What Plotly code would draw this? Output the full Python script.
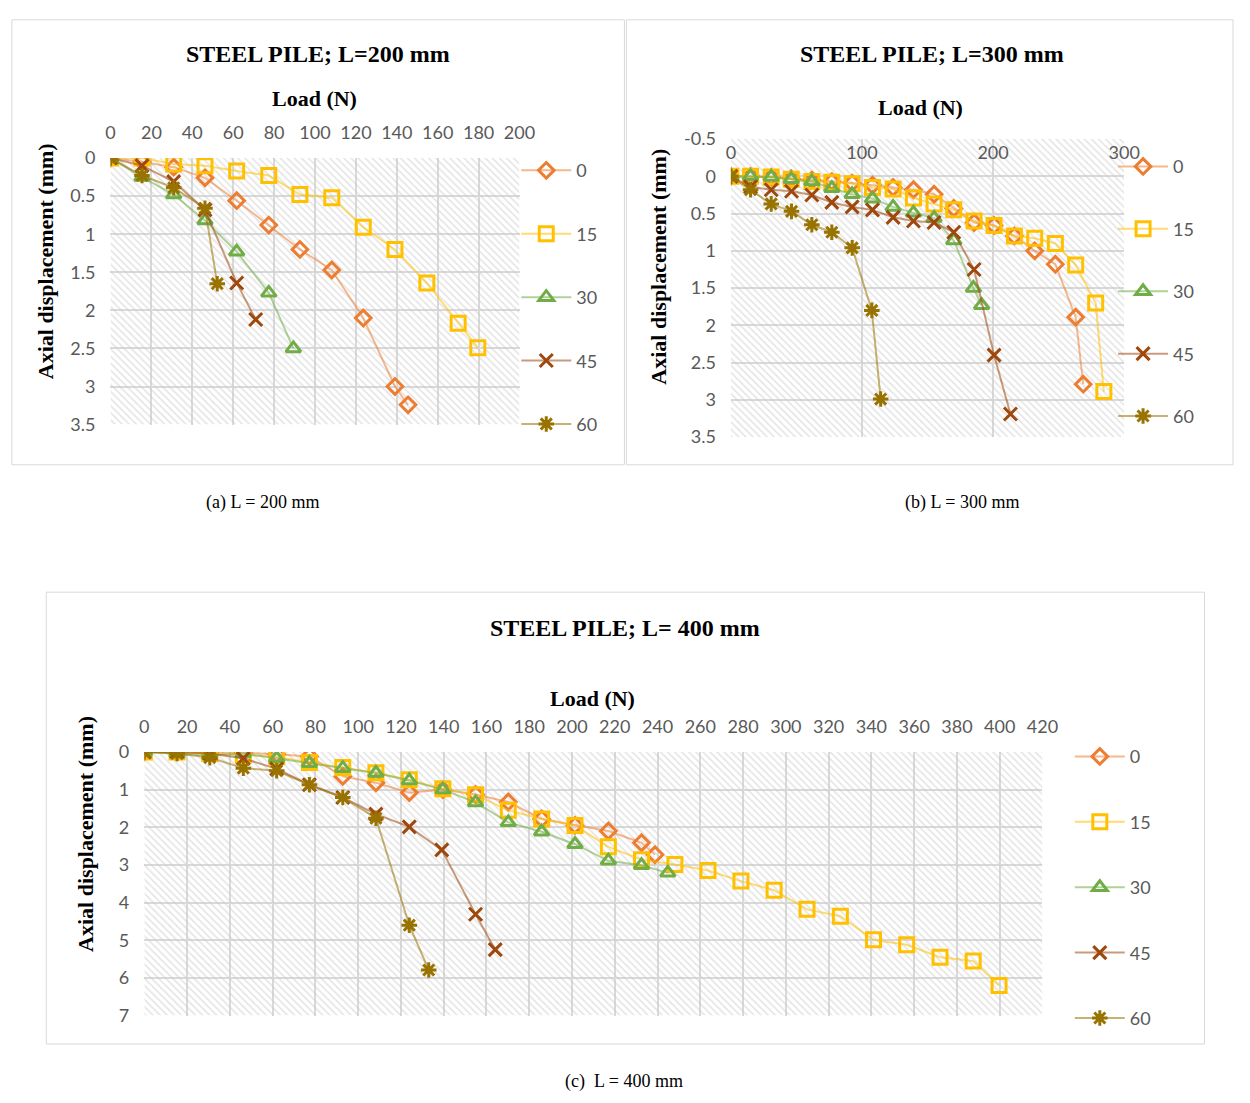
import plotly.graph_objects as go

W, H = 1250, 1103

# ---------------- DATA ----------------
series_names = ["0", "15", "30", "45", "60"]

# (a) L = 200 mm
A_x0 = [0, 15.4, 30.9, 46.2, 61.7, 77.4, 92.6, 108.2, 123.6, 139.1, 145.5]
A_y0 = [0, 0.05, 0.12, 0.26, 0.56, 0.88, 1.20, 1.47, 2.10, 3.00, 3.24]
A_x15 = [0, 15.4, 30.9, 46.2, 61.7, 77.4, 92.6, 108.2, 123.6, 139.1, 154.7, 170.0, 179.6]
A_y15 = [0, 0.0, 0.08, 0.10, 0.17, 0.23, 0.48, 0.52, 0.91, 1.20, 1.64, 2.17, 2.49]
A_x30 = [0, 15.4, 30.9, 46.2, 61.7, 77.4, 89.4]
A_y30 = [0, 0.25, 0.48, 0.82, 1.23, 1.77, 2.50]
A_x45 = [0, 15.4, 30.9, 46.2, 61.7, 71.0]
A_y45 = [0, 0.10, 0.31, 0.68, 1.64, 2.12]
A_x60 = [0, 15.4, 30.9, 46.2, 52.2]
A_y60 = [0, 0.23, 0.39, 0.66, 1.65]

# (b) L = 300 mm
B_x0 = [0, 15, 30.75, 46, 61.75, 77, 92.5, 108, 123.75, 139.25, 155, 170, 185.5, 200.75, 216.25, 231.75, 247.5, 263, 268.75]
B_y0 = [0, 0, 0.01, 0.03, 0.05, 0.07, 0.09, 0.12, 0.15, 0.18, 0.24, 0.43, 0.62, 0.66, 0.80, 1.00, 1.18, 1.89, 2.79]
B_x15 = [0, 15, 30.75, 46, 61.75, 77, 92.5, 108, 123.75, 139.25, 155, 170, 185.5, 200.75, 216.25, 231.75, 247.5, 263, 278.25, 284.5]
B_y15 = [0, 0, 0.01, 0.04, 0.07, 0.08, 0.10, 0.15, 0.17, 0.29, 0.37, 0.45, 0.60, 0.66, 0.80, 0.83, 0.90, 1.19, 1.70, 2.89]
B_x30 = [0, 15, 30.75, 46, 61.75, 77, 92.5, 108, 123.75, 139.25, 155, 170, 185, 191.25]
B_y30 = [0, 0, 0.01, 0.04, 0.07, 0.16, 0.24, 0.30, 0.41, 0.49, 0.56, 0.86, 1.50, 1.73]
B_x45 = [0, 15, 30.75, 46.25, 61.75, 77, 92.5, 108, 123.75, 139.25, 155, 170, 185.5, 200.75, 213.25]
B_y45 = [0, 0.14, 0.18, 0.20, 0.25, 0.35, 0.41, 0.45, 0.55, 0.60, 0.62, 0.75, 1.25, 2.40, 3.19]
B_x60 = [0, 15, 30.75, 46.25, 61.75, 77, 92.5, 107.5, 114.25]
B_y60 = [0, 0.18, 0.37, 0.47, 0.65, 0.75, 0.96, 1.80, 2.99]

# (c) L = 400 mm
C_x0 = [0, 15.3, 30.6, 46.3, 61.9, 77.2, 92.8, 108.3, 123.9, 139.6, 154.9, 170.2, 185.8, 201.4, 217.0, 232.5, 238.8]
C_y0 = [0, 0, 0, 0.02, 0.06, 0.12, 0.65, 0.82, 1.08, 1.00, 1.13, 1.33, 1.78, 1.95, 2.10, 2.41, 2.73]
C_x15 = [0, 15.3, 30.6, 46.3, 61.9, 77.2, 92.8, 108.3, 123.9, 139.6, 154.9, 170.2, 185.8, 201.4, 217.0, 232.5,
         248.1, 263.6, 279.0, 294.5, 309.9, 325.5, 341.0, 356.5, 372.1, 387.6, 399.7]
C_y15 = [0, 0, 0.04, 0.09, 0.13, 0.28, 0.41, 0.55, 0.74, 0.98, 1.14, 1.55, 1.78, 1.95, 2.52, 2.86,
         2.99, 3.15, 3.43, 3.67, 4.18, 4.36, 4.99, 5.12, 5.45, 5.55, 6.20]
C_x30 = [0, 15.3, 30.6, 46.3, 61.9, 77.2, 92.8, 108.3, 123.9, 139.6, 154.9, 170.2, 185.8, 201.4, 217.0, 232.5, 244.8]
C_y30 = [0, 0.04, 0.09, 0.04, 0.17, 0.30, 0.43, 0.56, 0.76, 1.00, 1.34, 1.87, 2.12, 2.45, 2.89, 3.01, 3.21]
C_x45 = [0, 15.3, 30.6, 46.3, 61.9, 77.2, 92.8, 108.3, 123.9, 139.1, 154.9, 164.1]
C_y45 = [0, 0, 0.04, 0.17, 0.45, 0.87, 1.21, 1.65, 1.99, 2.60, 4.31, 5.25]
C_x60 = [0, 15.3, 30.6, 46.3, 61.9, 77.2, 92.8, 108.3, 123.9, 133.0]
C_y60 = [0, 0.04, 0.15, 0.43, 0.50, 0.87, 1.21, 1.76, 4.60, 5.79]

# tick labels
A_xticks = [0, 20, 40, 60, 80, 100, 120, 140, 160, 180, 200]
A_yticks = [0, 0.5, 1, 1.5, 2, 2.5, 3, 3.5]
B_xticks = [0, 100, 200, 300]
B_yticks = [-0.5, 0, 0.5, 1, 1.5, 2, 2.5, 3, 3.5]
C_xticks = list(range(0, 421, 20))
C_yticks = [0, 1, 2, 3, 4, 5, 6, 7]

# ---------------- STYLE ----------------
marker_col = ["#ED7D31", "#FFC000", "#70AD47", "#9E480E", "#997300"]
line_col = ["rgba(237,125,49,0.55)", "rgba(255,192,0,0.55)", "rgba(112,173,71,0.55)",
            "rgba(158,72,14,0.55)", "rgba(153,115,0,0.55)"]
symbols = ["diamond-open", "square-open", "triangle-up-open", "x-thin-open", "asterisk-open"]
msize = [12, 14, 13, 13, 13]

TICKFONT = dict(family="Lato, Liberation Sans, sans-serif", size=18, color="#595959")
SERIF = "Liberation Serif, Times New Roman, serif"
GRID = "#d9d9d9"


def px(x):
    return x / W


def py(y):
    return 1 - y / H


fig = go.Figure()

charts = [
    dict(key="a", xa="x", ya="y", legend="legend",
         data=[(A_x0, A_y0), (A_x15, A_y15), (A_x30, A_y30), (A_x45, A_y45), (A_x60, A_y60)],
         xr=[0, 200], yr=[3.5, 0]),
    dict(key="b", xa="x2", ya="y2", legend="legend2",
         data=[(B_x0, B_y0), (B_x15, B_y15), (B_x30, B_y30), (B_x45, B_y45), (B_x60, B_y60)],
         xr=[0, 300], yr=[3.5, -0.5]),
    dict(key="c", xa="x3", ya="y3", legend="legend3",
         data=[(C_x0, C_y0), (C_x15, C_y15), (C_x30, C_y30), (C_x45, C_y45), (C_x60, C_y60)],
         xr=[0, 420], yr=[7, 0]),
]

for ch in charts:
    x0, x1 = ch["xr"]
    ylo, yhi = min(ch["yr"]), max(ch["yr"])
    # hatched plot-area background
    fig.add_trace(go.Bar(
        x=[(x0 + x1) / 2], y=[yhi - ylo], base=[ylo], width=[x1 - x0],
        xaxis=ch["xa"], yaxis=ch["ya"],
        marker=dict(color="rgba(0,0,0,0)", line=dict(width=0),
                    pattern=dict(shape="\\", fgcolor="#c9c9c9", bgcolor="rgba(0,0,0,0)",
                                 size=5, solidity=0.32, fillmode="overlay")),
        showlegend=False, hoverinfo="skip"))
    for i, (xs, ys) in enumerate(ch["data"]):
        fig.add_trace(go.Scatter(
            x=xs, y=ys, mode="lines+markers", name=series_names[i],
            xaxis=ch["xa"], yaxis=ch["ya"], legend=ch["legend"],
            legendgroup=ch["key"] + series_names[i],
            line=dict(color=line_col[i], width=2),
            marker=dict(symbol=symbols[i], size=msize[i], color=marker_col[i],
                        line=dict(color=marker_col[i], width=3)),
        ))


def xaxis_cfg(domain, rng, ticks, anchor, position=None):
    d = dict(domain=domain, range=rng, tickvals=ticks, ticktext=[str(t) for t in ticks],
             side="top", showgrid=True, gridcolor=GRID, gridwidth=2, zeroline=False,
             showline=False, ticks="", tickfont=TICKFONT, ticklabelstandoff=14, fixedrange=True)
    if position is not None:
        d.update(anchor="free", position=position)
    else:
        d.update(anchor=anchor)
    return d


def yaxis_cfg(domain, rng, ticks, anchor):
    return dict(domain=domain, range=rng, tickvals=ticks, ticktext=[f"{t:g}" for t in ticks],
                showgrid=True, gridcolor=GRID, gridwidth=2, zeroline=False, showline=False,
                ticks="", tickfont=TICKFONT, ticklabelstandoff=14, anchor=anchor, fixedrange=True)


fig.update_layout(
    width=W, height=H, margin=dict(l=0, r=0, t=0, b=0),
    paper_bgcolor="white", plot_bgcolor="white", showlegend=True,
    xaxis=xaxis_cfg([px(107.3), px(523.3)], [0, 200], A_xticks, "y"),
    yaxis=yaxis_cfg([py(421), py(149)], [3.5, 0], A_yticks, "x"),
    xaxis2=xaxis_cfg([px(738.3), px(1138.3)], [0, 300], B_xticks, "y2", position=py(167.7)),
    yaxis2=yaxis_cfg([py(433.7), py(129.7)], [3.5, -0.5], B_yticks, "x2"),
    xaxis3=xaxis_cfg([px(141.7), px(1055.2)], [0, 420], C_xticks, "y3"),
    yaxis3=yaxis_cfg([py(1024), py(755)], [7, 0], C_yticks, "x3"),
    legend=dict(x=px(520), y=py(143), xanchor="left", yanchor="top", font=TICKFONT,
                bgcolor="rgba(0,0,0,0)", tracegroupgap=37, itemwidth=50),
    legend2=dict(x=px(1127), y=py(139), xanchor="left", yanchor="top", font=TICKFONT,
                 bgcolor="rgba(0,0,0,0)", tracegroupgap=36, itemwidth=50),
    legend3=dict(x=px(1083), y=py(741), xanchor="left", yanchor="top", font=TICKFONT,
                 bgcolor="rgba(0,0,0,0)", tracegroupgap=39, itemwidth=50),
)

# chart frames
for (x0, y0, x1, y1) in [(7, 8, 630, 462), (632, 8, 1249, 462), (42, 592, 1220, 1053)]:
    fig.add_shape(type="rect", xref="paper", yref="paper",
                  x0=px(x0), x1=px(x1), y0=py(y1), y1=py(y0),
                  line=dict(color="#d9d9d9", width=1), fillcolor="rgba(0,0,0,0)", layer="below")

ann = []


def text(x, y, s, size, bold=False, angle=0):
    ann.append(dict(x=px(x), y=py(y), xref="paper", yref="paper", showarrow=False,
                    text=f"<b>{s}</b>" if bold else s, textangle=angle,
                    font=dict(family=SERIF, size=size, color="black"),
                    xanchor="center", yanchor="middle"))


text(318, 43, "STEEL PILE; L=200 mm", 24, bold=True)
text(943, 43, "STEEL PILE; L=300 mm", 24, bold=True)
text(631, 629, "STEEL PILE; L= 400 mm", 24, bold=True)
text(315, 88, "Load (N)", 22, bold=True)
text(931, 97, "Load (N)", 22, bold=True)
text(598, 700, "Load (N)", 22, bold=True)
text(42, 254, "Axial displacement (mm)", 22, bold=True, angle=-90)
text(665, 260, "Axial displacement (mm)", 22, bold=True, angle=-90)
text(82, 839, "Axial displacement (mm)", 22, bold=True, angle=-90)
text(262, 500, "(a) L = 200 mm", 18)
text(973, 500, "(b) L = 300 mm", 18)
text(630, 1091, "(c)  L = 400 mm", 18)
fig.update_layout(annotations=ann)

fig.write_html(
    "out.html",
    config={"displayModeBar": False, "staticPlot": True},
    post_script=(
        "var d=document.getElementById('{plot_id}');"
        "d.style.position='fixed';d.style.left='0px';d.style.top='0px';"
        "document.body.style.margin='0';document.body.style.padding='0';"
        "document.body.style.overflow='hidden';"
        "document.documentElement.style.overflow='hidden';"
    ),
)
